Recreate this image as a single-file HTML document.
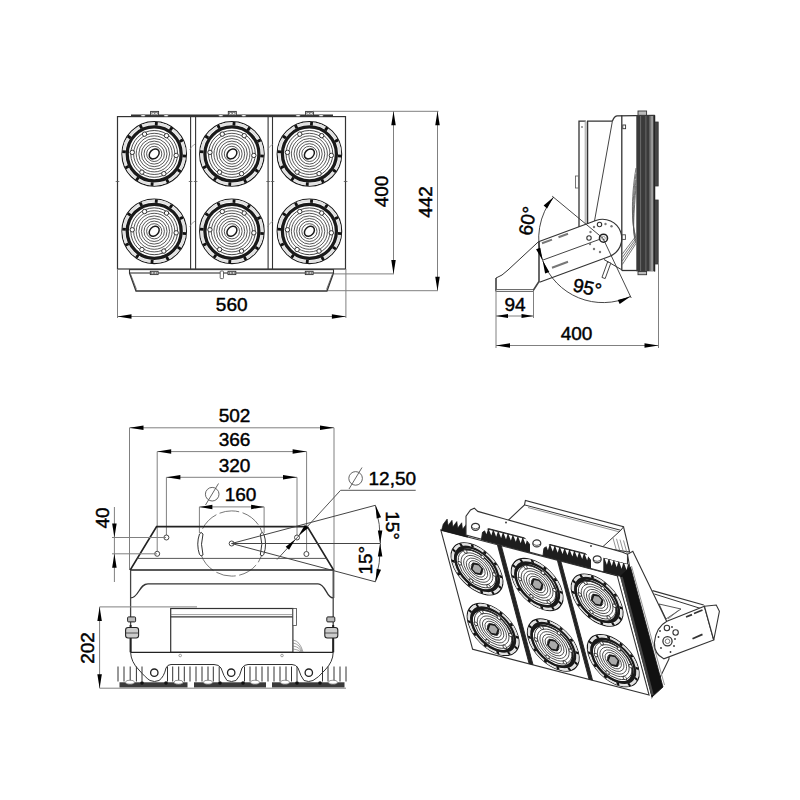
<!DOCTYPE html><html><head><meta charset="utf-8"><style>html,body{margin:0;padding:0;background:#fff;}svg{display:block;}text{font-family:"Liberation Sans",sans-serif;stroke:#000;stroke-width:0.45px;}</style></head><body><svg width="800" height="800" viewBox="0 0 800 800" font-family="Liberation Sans, sans-serif" fill="#000"><defs><g id="lens"><g><circle r="32.3" fill="#fff" stroke="#1a1a1a" stroke-width="1.1"/><circle r="30.4" fill="none" stroke="#e2e2e2" stroke-width="2.4"/><line x1="28.33" y1="1.98" x2="31.92" y2="2.23" stroke="#111" stroke-width="2.8"/><line x1="23.54" y1="15.88" x2="26.53" y2="17.89" stroke="#111" stroke-width="2.8"/><line x1="12.45" y1="25.53" x2="14.03" y2="28.76" stroke="#111" stroke-width="2.8"/><line x1="-1.98" y1="28.33" x2="-2.23" y2="31.92" stroke="#111" stroke-width="2.8"/><line x1="-15.88" y1="23.54" x2="-17.89" y2="26.53" stroke="#111" stroke-width="2.8"/><line x1="-25.53" y1="12.45" x2="-28.76" y2="14.03" stroke="#111" stroke-width="2.8"/><line x1="-28.33" y1="-1.98" x2="-31.92" y2="-2.23" stroke="#111" stroke-width="2.8"/><line x1="-23.54" y1="-15.88" x2="-26.53" y2="-17.89" stroke="#111" stroke-width="2.8"/><line x1="-12.45" y1="-25.53" x2="-14.03" y2="-28.76" stroke="#111" stroke-width="2.8"/><line x1="1.98" y1="-28.33" x2="2.23" y2="-31.92" stroke="#111" stroke-width="2.8"/><line x1="15.88" y1="-23.54" x2="17.89" y2="-26.53" stroke="#111" stroke-width="2.8"/><line x1="25.53" y1="-12.45" x2="28.76" y2="-14.03" stroke="#111" stroke-width="2.8"/><circle r="27.0" fill="none" stroke="#1a1a1a" stroke-width="3.3"/><circle r="23.4" fill="none" stroke="#333" stroke-width="0.9"/><circle r="20.6" fill="none" stroke="#3a3a3a" stroke-width="0.85"/><circle r="18.0" fill="none" stroke="#3a3a3a" stroke-width="0.85"/><circle r="15.4" fill="none" stroke="#3a3a3a" stroke-width="0.85"/><circle r="12.8" fill="none" stroke="#3a3a3a" stroke-width="0.85"/><circle r="10.2" fill="none" stroke="#3a3a3a" stroke-width="0.85"/><circle r="7.6" fill="none" stroke="#3a3a3a" stroke-width="0.85"/><circle cx="21.95" cy="1.53" r="2.2" fill="#fff" stroke="#333" stroke-width="1.0"/><circle cx="9.64" cy="19.77" r="2.2" fill="#fff" stroke="#333" stroke-width="1.0"/><circle cx="-12.30" cy="18.24" r="2.2" fill="#fff" stroke="#333" stroke-width="1.0"/><circle cx="-21.95" cy="-1.53" r="2.2" fill="#fff" stroke="#333" stroke-width="1.0"/><circle cx="-9.64" cy="-19.77" r="2.2" fill="#fff" stroke="#333" stroke-width="1.0"/><circle cx="12.30" cy="-18.24" r="2.2" fill="#fff" stroke="#333" stroke-width="1.0"/><ellipse rx="5.6" ry="4.3" transform="rotate(-45)" fill="#fff" stroke="#1a1a1a" stroke-width="1.5"/></g></g><g id="lensI"><g transform="translate(-0.9,3.2)"><circle r="32.3" fill="#fff" stroke="#1a1a1a" stroke-width="1.32"/><circle r="30.4" fill="none" stroke="#e2e2e2" stroke-width="2.4"/><line x1="28.33" y1="1.98" x2="31.92" y2="2.23" stroke="#111" stroke-width="3.36"/><line x1="23.54" y1="15.88" x2="26.53" y2="17.89" stroke="#111" stroke-width="3.36"/><line x1="12.45" y1="25.53" x2="14.03" y2="28.76" stroke="#111" stroke-width="3.36"/><line x1="-1.98" y1="28.33" x2="-2.23" y2="31.92" stroke="#111" stroke-width="3.36"/><line x1="-15.88" y1="23.54" x2="-17.89" y2="26.53" stroke="#111" stroke-width="3.36"/><line x1="-25.53" y1="12.45" x2="-28.76" y2="14.03" stroke="#111" stroke-width="3.36"/><line x1="-28.33" y1="-1.98" x2="-31.92" y2="-2.23" stroke="#111" stroke-width="3.36"/><line x1="-23.54" y1="-15.88" x2="-26.53" y2="-17.89" stroke="#111" stroke-width="3.36"/><line x1="-12.45" y1="-25.53" x2="-14.03" y2="-28.76" stroke="#111" stroke-width="3.36"/><line x1="1.98" y1="-28.33" x2="2.23" y2="-31.92" stroke="#111" stroke-width="3.36"/><line x1="15.88" y1="-23.54" x2="17.89" y2="-26.53" stroke="#111" stroke-width="3.36"/><line x1="25.53" y1="-12.45" x2="28.76" y2="-14.03" stroke="#111" stroke-width="3.36"/><circle r="27.0" fill="none" stroke="#1a1a1a" stroke-width="3.465"/><circle cx="-1.8" cy="1.8" r="25.6" fill="none" stroke="#1a1a1a" stroke-width="2.4"/><circle r="23.4" fill="none" stroke="#333" stroke-width="1.08"/><circle r="19.8" fill="none" stroke="#3a3a3a" stroke-width="1.02"/><circle r="16.6" fill="none" stroke="#3a3a3a" stroke-width="1.02"/><circle r="13.4" fill="none" stroke="#3a3a3a" stroke-width="1.02"/><circle r="10.2" fill="none" stroke="#3a3a3a" stroke-width="1.02"/><circle r="7.2" fill="none" stroke="#3a3a3a" stroke-width="1.02"/><circle cx="21.95" cy="1.53" r="2.2" fill="#fff" stroke="#333" stroke-width="1.2"/><circle cx="9.64" cy="19.77" r="2.2" fill="#fff" stroke="#333" stroke-width="1.2"/><circle cx="-12.30" cy="18.24" r="2.2" fill="#fff" stroke="#333" stroke-width="1.2"/><circle cx="-21.95" cy="-1.53" r="2.2" fill="#fff" stroke="#333" stroke-width="1.2"/><circle cx="-9.64" cy="-19.77" r="2.2" fill="#fff" stroke="#333" stroke-width="1.2"/><circle cx="12.30" cy="-18.24" r="2.2" fill="#fff" stroke="#333" stroke-width="1.2"/><polygon points="7.5,-2 4,-6.5 -3,-6 -7.5,2 -4,6.5 3,6" fill="#aaa" stroke="#1a1a1a" stroke-width="2.2"/></g></g><g id="panel"><rect x="117.5" y="116.6" width="228" height="152.4" fill="#fff" stroke="#333" stroke-width="1.2"/><line x1="190.6" y1="116.6" x2="190.6" y2="269" stroke="#333" stroke-width="1.1"/><line x1="195.6" y1="116.6" x2="195.6" y2="269" stroke="#333" stroke-width="1.1"/><line x1="268.1" y1="116.6" x2="268.1" y2="269" stroke="#333" stroke-width="1.1"/><line x1="272.5" y1="116.6" x2="272.5" y2="269" stroke="#333" stroke-width="1.1"/><use href="#lens" x="154.2" y="153.9"/><use href="#lens" x="154.2" y="231.3"/><use href="#lens" x="231.9" y="153.9"/><use href="#lens" x="231.9" y="231.3"/><use href="#lens" x="309.4" y="153.9"/><use href="#lens" x="309.4" y="231.3"/></g><g id="panelI"><rect x="117.5" y="116.6" width="228" height="152.4" fill="#fff" stroke="#333" stroke-width="1.56"/><line x1="190.6" y1="116.6" x2="190.6" y2="269" stroke="#333" stroke-width="1.4300000000000002"/><line x1="195.6" y1="116.6" x2="195.6" y2="269" stroke="#333" stroke-width="1.4300000000000002"/><line x1="268.1" y1="116.6" x2="268.1" y2="269" stroke="#333" stroke-width="1.4300000000000002"/><line x1="272.5" y1="116.6" x2="272.5" y2="269" stroke="#333" stroke-width="1.4300000000000002"/><use href="#lensI" x="154.2" y="153.9"/><use href="#lensI" x="154.2" y="231.3"/><use href="#lensI" x="231.9" y="153.9"/><use href="#lensI" x="231.9" y="231.3"/><use href="#lensI" x="309.4" y="153.9"/><use href="#lensI" x="309.4" y="231.3"/></g></defs><use href="#panel"/><line x1="115.70" y1="181.50" x2="119.30" y2="181.50" stroke="#555" stroke-width="0.8"/><line x1="188.80" y1="181.50" x2="192.40" y2="181.50" stroke="#555" stroke-width="0.8"/><line x1="193.80" y1="181.50" x2="197.40" y2="181.50" stroke="#555" stroke-width="0.8"/><line x1="266.30" y1="181.50" x2="269.90" y2="181.50" stroke="#555" stroke-width="0.8"/><line x1="270.70" y1="181.50" x2="274.30" y2="181.50" stroke="#555" stroke-width="0.8"/><line x1="343.80" y1="181.50" x2="347.40" y2="181.50" stroke="#555" stroke-width="0.8"/><path d="M195.10000000000002,144 Q191.3,146 189.5,150" fill="none" stroke="#777" stroke-width="0.6"/><path d="M195.10000000000002,221 Q191.3,223 189.5,227" fill="none" stroke="#777" stroke-width="0.6"/><path d="M273.1,144 Q269.3,146 267.5,150" fill="none" stroke="#777" stroke-width="0.6"/><path d="M273.1,221 Q269.3,223 267.5,227" fill="none" stroke="#777" stroke-width="0.6"/><line x1="131.00" y1="115.20" x2="333.00" y2="115.20" stroke="#333" stroke-width="1.6"/><rect x="150.6" y="111.4" width="8" height="3.9" fill="#ddd" stroke="#333" stroke-width="0.9"/><rect x="152.0" y="112.4" width="2.2" height="2.2" fill="#fff" stroke="#555" stroke-width="0.6"/><rect x="155.0" y="112.4" width="2.2" height="2.2" fill="#fff" stroke="#555" stroke-width="0.6"/><ellipse cx="143.1" cy="115.6" rx="2.2" ry="1" fill="#fff" stroke="#555" stroke-width="0.6"/><ellipse cx="166.1" cy="115.6" rx="2.2" ry="1" fill="#fff" stroke="#555" stroke-width="0.6"/><rect x="228.3" y="111.4" width="8" height="3.9" fill="#ddd" stroke="#333" stroke-width="0.9"/><rect x="229.70000000000002" y="112.4" width="2.2" height="2.2" fill="#fff" stroke="#555" stroke-width="0.6"/><rect x="232.70000000000002" y="112.4" width="2.2" height="2.2" fill="#fff" stroke="#555" stroke-width="0.6"/><ellipse cx="220.8" cy="115.6" rx="2.2" ry="1" fill="#fff" stroke="#555" stroke-width="0.6"/><ellipse cx="243.8" cy="115.6" rx="2.2" ry="1" fill="#fff" stroke="#555" stroke-width="0.6"/><rect x="305.6" y="111.4" width="8" height="3.9" fill="#ddd" stroke="#333" stroke-width="0.9"/><rect x="307.0" y="112.4" width="2.2" height="2.2" fill="#fff" stroke="#555" stroke-width="0.6"/><rect x="310.0" y="112.4" width="2.2" height="2.2" fill="#fff" stroke="#555" stroke-width="0.6"/><ellipse cx="298.1" cy="115.6" rx="2.2" ry="1" fill="#fff" stroke="#555" stroke-width="0.6"/><ellipse cx="321.1" cy="115.6" rx="2.2" ry="1" fill="#fff" stroke="#555" stroke-width="0.6"/><rect x="129.5" y="269.6" width="204" height="3.4" fill="#fff" stroke="#333" stroke-width="1.1"/><polyline points="129.50,273.00 136.00,291.00 327.00,291.00 333.50,273.00" fill="none" stroke="#333" stroke-width="1.3"/><line x1="130.50" y1="274.00" x2="136.50" y2="289.50" stroke="#555" stroke-width="0.8"/><line x1="332.50" y1="274.00" x2="326.50" y2="289.50" stroke="#555" stroke-width="0.8"/><rect x="150.29999999999998" y="271.3" width="7.8" height="3.3" fill="#ddd" stroke="#333" stroke-width="0.9"/><rect x="151.7" y="272" width="2.1" height="1.9" fill="#fff" stroke="#555" stroke-width="0.6"/><rect x="154.7" y="272" width="2.1" height="1.9" fill="#fff" stroke="#555" stroke-width="0.6"/><rect x="228.0" y="271.3" width="7.8" height="3.3" fill="#ddd" stroke="#333" stroke-width="0.9"/><rect x="229.4" y="272" width="2.1" height="1.9" fill="#fff" stroke="#555" stroke-width="0.6"/><rect x="232.4" y="272" width="2.1" height="1.9" fill="#fff" stroke="#555" stroke-width="0.6"/><rect x="305.3" y="271.3" width="7.8" height="3.3" fill="#ddd" stroke="#333" stroke-width="0.9"/><rect x="306.70000000000005" y="272" width="2.1" height="1.9" fill="#fff" stroke="#555" stroke-width="0.6"/><rect x="309.70000000000005" y="272" width="2.1" height="1.9" fill="#fff" stroke="#555" stroke-width="0.6"/><rect x="220.2" y="271" width="3.3" height="7.6" rx="0.8" fill="#fff" stroke="#444" stroke-width="0.8"/><line x1="313.00" y1="111.30" x2="438.50" y2="111.30" stroke="#808080" stroke-width="1"/><line x1="393.50" y1="111.20" x2="393.50" y2="273.90" stroke="#808080" stroke-width="1"/><polygon points="393.50,111.20 395.75,125.20 391.25,125.20" fill="#000"/><polygon points="393.50,273.90 391.25,259.90 395.75,259.90" fill="#000"/><line x1="437.50" y1="111.20" x2="437.50" y2="290.70" stroke="#808080" stroke-width="1"/><polygon points="437.50,111.20 439.75,125.20 435.25,125.20" fill="#000"/><polygon points="437.50,290.70 435.25,276.70 439.75,276.70" fill="#000"/><line x1="334.00" y1="273.90" x2="394.00" y2="273.90" stroke="#808080" stroke-width="1"/><line x1="328.00" y1="290.70" x2="438.00" y2="290.70" stroke="#808080" stroke-width="1"/><text x="388" y="191.5" font-size="19" text-anchor="middle" letter-spacing="0" transform="rotate(-90 388 191.5)">400</text><text x="432" y="202" font-size="19" text-anchor="middle" letter-spacing="0" transform="rotate(-90 432 202)">442</text><line x1="117.50" y1="269.00" x2="117.50" y2="318.00" stroke="#808080" stroke-width="1"/><line x1="345.90" y1="269.00" x2="345.90" y2="318.00" stroke="#808080" stroke-width="1"/><line x1="117.50" y1="316.50" x2="345.90" y2="316.50" stroke="#808080" stroke-width="1"/><polygon points="117.50,316.50 131.50,314.25 131.50,318.75" fill="#000"/><polygon points="345.90,316.50 331.90,318.75 331.90,314.25" fill="#000"/><text x="231.7" y="310.5" font-size="19" text-anchor="middle" letter-spacing="0">560</text><polyline points="579.00,227.00 579.00,121.10 585.80,121.10" fill="none" stroke="#333" stroke-width="1.3"/><polyline points="587.60,224.00 587.60,121.10 612.40,121.10" fill="none" stroke="#333" stroke-width="1.3"/><rect x="584.6" y="121.5" width="2.3" height="102" fill="#bbb"/><circle cx="582" cy="127" r="0.8" fill="#333"/><path d="M612.4,121.1 Q614,116.3 617,115.8 L654.7,115.3" fill="none" stroke="#333" stroke-width="1.3"/><line x1="612.40" y1="121.10" x2="594.50" y2="221.00" stroke="#444" stroke-width="1"/><line x1="621.80" y1="115.30" x2="621.80" y2="270.50" stroke="#333" stroke-width="1.3"/><rect x="622.8" y="125" width="2.8" height="3.7" fill="#fff" stroke="#333" stroke-width="0.9"/><rect x="575.5" y="176" width="3" height="12" fill="#fff" stroke="#555" stroke-width="0.8"/><line x1="621.80" y1="270.50" x2="637.00" y2="270.50" stroke="#333" stroke-width="1.3"/><rect x="636.3" y="115.3" width="18.6" height="156" fill="#3a3a3a"/><line x1="640.60" y1="116.00" x2="640.60" y2="271.00" stroke="#777" stroke-width="0.8"/><line x1="645.90" y1="116.00" x2="645.90" y2="271.00" stroke="#777" stroke-width="0.8"/><rect x="649.6" y="116" width="3.6" height="155" fill="#9a9a9a"/><line x1="650.60" y1="116.00" x2="650.60" y2="271.00" stroke="#555" stroke-width="0.6"/><line x1="654.60" y1="115.30" x2="654.60" y2="271.50" stroke="#222" stroke-width="1.3"/><rect x="655.2" y="122" width="3" height="64" fill="#444" stroke="#333" stroke-width="0.8"/><rect x="655.2" y="200" width="3" height="64" fill="#444" stroke="#333" stroke-width="0.8"/><rect x="638" y="111" width="8.6" height="4.3" fill="#bbb" stroke="#333" stroke-width="0.9"/><rect x="638" y="271.5" width="8.6" height="3.2" fill="#bbb" stroke="#333" stroke-width="0.9"/><path d="M636,168 C630.5,200 632,228 636,236.0 L622.3,254.0" fill="none" stroke="#555" stroke-width="0.8"/><path d="M636,174 C631.7,204 632,230 636,238.5 L622.3,257.5" fill="none" stroke="#555" stroke-width="0.8"/><path d="M636,180 C632.9,208 632,232 636,241.0 L622.3,261.0" fill="none" stroke="#555" stroke-width="0.8"/><path d="M636,186 C634.1,212 632,234 636,243.5 L622.3,264.5" fill="none" stroke="#555" stroke-width="0.8"/><line x1="604.00" y1="259.50" x2="621.80" y2="269.80" stroke="#333" stroke-width="1"/><polyline points="496.00,290.80 496.00,278.00" fill="none" stroke="#555" stroke-width="1.8"/><path d="M496,278 Q502,276 508,270 L538.5,241.7" fill="none" stroke="#333" stroke-width="1"/><rect x="496" y="289.6" width="37.5" height="1.8" fill="#fff" stroke="#555" stroke-width="0.9"/><polyline points="533.50,290.00 539.00,281.50 539.00,241.50" fill="none" stroke="#444" stroke-width="1.6"/><path d="M538.5,241.7 L595.9,220.5 A19.2,19.2 0 1 1 609.3,256.5 L539.5,282.3" fill="#fff" fill-opacity="0" stroke="#333" stroke-width="1.2"/><line x1="543.00" y1="260.00" x2="600.00" y2="239.20" stroke="#444" stroke-width="1"/><line x1="542.00" y1="243.30" x2="552.00" y2="239.60" stroke="#777" stroke-width="2"/><line x1="558.50" y1="237.20" x2="568.00" y2="233.70" stroke="#777" stroke-width="2"/><line x1="552.00" y1="267.70" x2="568.00" y2="261.80" stroke="#777" stroke-width="2"/><circle cx="603.5" cy="238.2" r="4" fill="#fff" stroke="#222" stroke-width="1.6"/><circle cx="603.5" cy="238.2" r="1.8" fill="none" stroke="#777" stroke-width="0.7"/><circle cx="599.5" cy="224.5" r="2.2" fill="#fff" stroke="#333" stroke-width="1.1"/><circle cx="589" cy="238" r="2.2" fill="#fff" stroke="#333" stroke-width="1.1"/><circle cx="605.5" cy="224" r="1.2" fill="#777"/><circle cx="611.5" cy="226.2" r="1.2" fill="#777"/><circle cx="594" cy="227" r="1.2" fill="#777"/><circle cx="590.5" cy="232" r="1.2" fill="#777"/><circle cx="590" cy="244" r="1.2" fill="#777"/><circle cx="594" cy="249" r="1.2" fill="#777"/><circle cx="600" cy="252" r="1.2" fill="#777"/><rect x="622.2" y="234.8" width="3.2" height="4.6" fill="#fff" stroke="#444" stroke-width="0.9"/><rect x="604.7" y="262" width="3.4" height="16.5" fill="#fff" stroke="#444" stroke-width="0.9" transform="rotate(20 606.4 270.2)"/><line x1="603.00" y1="238.30" x2="552.19" y2="196.17" stroke="#333" stroke-width="0.9"/><line x1="603.00" y1="238.30" x2="631.21" y2="297.97" stroke="#333" stroke-width="0.9"/><path d="M553.67,197.05 A64.3,64.3 0 0 0 542.69,260.61 A64.3,64.3 0 0 0 630.48,296.43" fill="none" stroke="#333" stroke-width="0.9"/><polygon points="553.67,197.05 547.06,208.47 543.61,205.58" fill="#000"/><polygon points="542.69,260.61 549.31,272.02 545.09,273.58" fill="#000"/><polygon points="542.69,260.61 536.07,249.20 540.29,247.63" fill="#000"/><polygon points="630.48,296.43 619.69,304.02 617.76,299.95" fill="#000"/><text x="534" y="222" font-size="19" text-anchor="middle" letter-spacing="0" transform="rotate(-80 534 222)">60°</text><text x="586" y="294" font-size="19" text-anchor="middle" letter-spacing="0" transform="rotate(12 586 294)">95°</text><line x1="496.00" y1="291.00" x2="496.00" y2="348.00" stroke="#808080" stroke-width="1"/><line x1="533.50" y1="291.00" x2="533.50" y2="318.00" stroke="#808080" stroke-width="1"/><line x1="496.00" y1="316.00" x2="533.50" y2="316.00" stroke="#808080" stroke-width="1"/><polygon points="496.00,316.00 508.00,314.00 508.00,318.00" fill="#000"/><polygon points="533.50,316.00 521.50,318.00 521.50,314.00" fill="#000"/><text x="515" y="310.5" font-size="19" text-anchor="middle" letter-spacing="0">94</text><line x1="658.50" y1="262.00" x2="658.50" y2="348.00" stroke="#808080" stroke-width="1"/><line x1="496.00" y1="345.50" x2="658.50" y2="345.50" stroke="#808080" stroke-width="1"/><polygon points="496.00,345.50 510.00,343.25 510.00,347.75" fill="#000"/><polygon points="658.50,345.50 644.50,347.75 644.50,343.25" fill="#000"/><text x="576.5" y="340" font-size="19" text-anchor="middle" letter-spacing="0">400</text><line x1="129.50" y1="427.80" x2="129.50" y2="570.00" stroke="#808080" stroke-width="1"/><line x1="334.00" y1="427.80" x2="334.00" y2="598.00" stroke="#808080" stroke-width="1"/><line x1="129.50" y1="427.80" x2="334.00" y2="427.80" stroke="#808080" stroke-width="1"/><polygon points="129.50,427.80 143.50,425.55 143.50,430.05" fill="#000"/><polygon points="334.00,427.80 320.00,430.05 320.00,425.55" fill="#000"/><text x="234.5" y="422" font-size="19" text-anchor="middle" letter-spacing="0">502</text><line x1="157.20" y1="451.60" x2="157.20" y2="551.00" stroke="#808080" stroke-width="1"/><line x1="306.60" y1="451.60" x2="306.60" y2="551.50" stroke="#808080" stroke-width="1"/><line x1="157.20" y1="451.60" x2="306.60" y2="451.60" stroke="#808080" stroke-width="1"/><polygon points="157.20,451.60 171.20,449.35 171.20,453.85" fill="#000"/><polygon points="306.60,451.60 292.60,453.85 292.60,449.35" fill="#000"/><text x="234.5" y="446" font-size="19" text-anchor="middle" letter-spacing="0">366</text><line x1="166.40" y1="477.30" x2="166.40" y2="535.00" stroke="#808080" stroke-width="1"/><line x1="297.00" y1="477.30" x2="297.00" y2="535.00" stroke="#808080" stroke-width="1"/><line x1="166.40" y1="477.30" x2="297.00" y2="477.30" stroke="#808080" stroke-width="1"/><polygon points="166.40,477.30 180.40,475.05 180.40,479.55" fill="#000"/><polygon points="297.00,477.30 283.00,479.55 283.00,475.05" fill="#000"/><text x="234.5" y="472" font-size="19" text-anchor="middle" letter-spacing="0">320</text><line x1="199.40" y1="506.90" x2="199.40" y2="533.00" stroke="#808080" stroke-width="1"/><line x1="264.10" y1="506.90" x2="264.10" y2="533.00" stroke="#808080" stroke-width="1"/><line x1="199.40" y1="506.90" x2="264.10" y2="506.90" stroke="#808080" stroke-width="1"/><polygon points="199.40,506.90 212.40,504.65 212.40,509.15" fill="#000"/><polygon points="264.10,506.90 251.10,509.15 251.10,504.65" fill="#000"/><text x="240.5" y="501.3" font-size="19" text-anchor="middle" letter-spacing="0">160</text><circle cx="212.2" cy="494.2" r="6.8" fill="none" stroke="#555" stroke-width="0.9"/><line x1="205.50" y1="505.00" x2="218.50" y2="483.50" stroke="#555" stroke-width="0.9"/><circle cx="231.65" cy="543.5" r="32.6" fill="none" stroke="#555" stroke-width="0.8" stroke-dasharray="20,3.5"/><polyline points="130.30,569.90 156.60,526.60 307.30,526.60 333.50,569.90" fill="none" stroke="#222" stroke-width="1.7"/><line x1="130.30" y1="569.90" x2="333.50" y2="569.90" stroke="#222" stroke-width="1.5"/><line x1="137.00" y1="558.40" x2="327.00" y2="558.40" stroke="#444" stroke-width="0.9"/><circle cx="166.4" cy="537.5" r="2.5" fill="#fff" stroke="#333" stroke-width="0.9"/><circle cx="157.2" cy="553.8" r="2.5" fill="#fff" stroke="#333" stroke-width="0.9"/><circle cx="297" cy="537.5" r="2.5" fill="#fff" stroke="#333" stroke-width="0.9"/><circle cx="306.4" cy="554.0" r="2.5" fill="#fff" stroke="#333" stroke-width="0.9"/><circle cx="231.65" cy="543.5" r="2.5" fill="#fff" stroke="#333" stroke-width="0.9"/><path d="M199.5,534 Q196,544 199.5,554.5 Q201,557 203,555 Q200,544 203,534 Q201,531 199.5,534Z" fill="#fff" stroke="#333" stroke-width="1"/><path d="M263.8,534 Q267.3,544 263.8,554.5 Q262.3,557 260.3,555 Q263.3,544 260.3,534 Q262.3,531 263.8,534Z" fill="#fff" stroke="#333" stroke-width="1"/><line x1="112.00" y1="537.50" x2="166.00" y2="537.50" stroke="#808080" stroke-width="1"/><line x1="112.00" y1="553.80" x2="157.00" y2="553.80" stroke="#808080" stroke-width="1"/><line x1="114.40" y1="507.00" x2="114.40" y2="582.00" stroke="#808080" stroke-width="1"/><polygon points="114.40,537.50 112.15,523.50 116.65,523.50" fill="#000"/><polygon points="114.40,553.80 116.65,567.80 112.15,567.80" fill="#000"/><text x="108.5" y="518" font-size="19" text-anchor="middle" letter-spacing="0" transform="rotate(-90 108.5 518)">40</text><line x1="231.65" y1="543.50" x2="380.00" y2="543.50" stroke="#444" stroke-width="1"/><line x1="231.65" y1="543.50" x2="375.40" y2="505.30" stroke="#444" stroke-width="1"/><line x1="231.65" y1="543.50" x2="375.40" y2="581.80" stroke="#444" stroke-width="1"/><path d="M375.4,505.3 A148.5,148.5 0 0 1 375.4,581.8" fill="none" stroke="#444" stroke-width="0.9"/><polygon points="375.60,505.30 381.05,517.32 376.69,518.45" fill="#000"/><polygon points="380.10,543.50 377.85,530.50 382.35,530.50" fill="#000"/><polygon points="380.10,543.50 382.35,556.50 377.85,556.50" fill="#000"/><polygon points="375.60,581.80 376.69,568.65 381.05,569.78" fill="#000"/><text x="385.5" y="525.5" font-size="19" text-anchor="middle" letter-spacing="0" transform="rotate(90 385.5 525.5)">15°</text><text x="372.5" y="560.2" font-size="19" text-anchor="middle" letter-spacing="0" transform="rotate(-90 372.5 560.2)">15°</text><polyline points="277.10,559.50 340.60,490.30 415.70,490.30" fill="none" stroke="#555" stroke-width="1"/><polygon points="298.60,535.50 304.92,525.05 308.28,528.05" fill="#000"/><polygon points="295.30,539.30 289.06,549.79 285.68,546.82" fill="#000"/><text x="368.5" y="484.5" font-size="19" text-anchor="start" letter-spacing="0">12,50</text><circle cx="355.6" cy="478.4" r="6.8" fill="none" stroke="#555" stroke-width="0.9"/><line x1="349.00" y1="489.00" x2="362.00" y2="467.50" stroke="#555" stroke-width="0.9"/><path d="M130.6,597.9 C139,597.9 139,583.8 148,583.8 L318,583.8 C326,583.8 326,597.9 333.2,597.9" fill="none" stroke="#333" stroke-width="1.3"/><line x1="130.60" y1="570.00" x2="130.60" y2="652.30" stroke="#444" stroke-width="1.3"/><line x1="333.20" y1="570.00" x2="333.20" y2="652.30" stroke="#444" stroke-width="1.3"/><line x1="130.60" y1="625.00" x2="130.60" y2="652.30" stroke="#222" stroke-width="2"/><line x1="333.20" y1="625.00" x2="333.20" y2="652.30" stroke="#222" stroke-width="2"/><rect x="127.6" y="616.9" width="8" height="5" rx="1" fill="#bbb" stroke="#222" stroke-width="1"/><rect x="125.6" y="627.5" width="13" height="10.5" rx="2.5" fill="#ccc" stroke="#222" stroke-width="1.1"/><line x1="125.60" y1="633.00" x2="138.60" y2="633.00" stroke="#333" stroke-width="0.8"/><rect x="326.8" y="616.9" width="8" height="5" rx="1" fill="#bbb" stroke="#222" stroke-width="1"/><rect x="324.8" y="627.5" width="13" height="10.5" rx="2.5" fill="#ccc" stroke="#222" stroke-width="1.1"/><line x1="324.80" y1="633.00" x2="337.80" y2="633.00" stroke="#333" stroke-width="0.8"/><rect x="170.7" y="608.5" width="122.2" height="43.8" fill="#fff" stroke="#333" stroke-width="1.2"/><line x1="170.70" y1="616.80" x2="296.50" y2="616.80" stroke="#333" stroke-width="1.3"/><line x1="170.70" y1="614.60" x2="292.90" y2="614.60" stroke="#777" stroke-width="0.7"/><rect x="292.9" y="608.5" width="3.6" height="17" fill="#fff" stroke="#444" stroke-width="0.8"/><line x1="99.60" y1="606.90" x2="197.00" y2="606.90" stroke="#808080" stroke-width="1"/><line x1="130.60" y1="652.30" x2="333.20" y2="652.30" stroke="#222" stroke-width="1.3"/><path d="M293,640 Q300,641 303,652" fill="none" stroke="#666" stroke-width="0.6"/><path d="M293,643 Q300,644 302,652" fill="none" stroke="#666" stroke-width="0.6"/><path d="M293,646 Q300,647 301,652" fill="none" stroke="#666" stroke-width="0.6"/><path d="M293,649 Q300,650 300,652" fill="none" stroke="#666" stroke-width="0.6"/><circle cx="180.2" cy="655.5" r="1.3" fill="none" stroke="#777" stroke-width="0.7"/><circle cx="282" cy="655.5" r="1.3" fill="none" stroke="#777" stroke-width="0.7"/><path d="M130.6,652.3 Q131,662 139,670 Q146,678 150,680.5 Q154.5,682.5 159,680.5 Q164,677 166,668 Q167.5,664.5 171,664.5 L214,664.5 Q219,664.5 221,668 Q224,677 227,680.5 Q231.5,682.5 236,680.5 Q240,677 242,668 Q244,664.5 248,664.5 L292,664.5 Q296,664.5 298,668 Q301,677 304,680.5 Q308.8,682.5 313,680.5 Q318,678 325,670 Q333,662 333.2,652.3" fill="none" stroke="#333" stroke-width="1"/><circle cx="154.3" cy="672.7" r="3.7" fill="#fff" stroke="#222" stroke-width="1.3"/><circle cx="231.2" cy="672.7" r="3.7" fill="#fff" stroke="#222" stroke-width="1.3"/><circle cx="308.8" cy="672.7" r="3.7" fill="#fff" stroke="#222" stroke-width="1.3"/><line x1="118.00" y1="666.50" x2="118.00" y2="681.50" stroke="#333" stroke-width="1"/><line x1="124.00" y1="666.50" x2="124.00" y2="681.50" stroke="#333" stroke-width="1"/><line x1="130.20" y1="666.50" x2="130.20" y2="681.50" stroke="#333" stroke-width="1"/><line x1="136.40" y1="666.50" x2="136.40" y2="681.50" stroke="#333" stroke-width="1"/><line x1="142.00" y1="666.50" x2="142.00" y2="681.50" stroke="#333" stroke-width="1"/><line x1="167.50" y1="666.50" x2="167.50" y2="681.50" stroke="#333" stroke-width="1"/><line x1="172.70" y1="666.50" x2="172.70" y2="681.50" stroke="#333" stroke-width="1"/><line x1="178.70" y1="666.50" x2="178.70" y2="681.50" stroke="#333" stroke-width="1"/><line x1="184.30" y1="666.50" x2="184.30" y2="681.50" stroke="#333" stroke-width="1"/><line x1="190.00" y1="666.50" x2="190.00" y2="681.50" stroke="#333" stroke-width="1"/><line x1="196.00" y1="666.50" x2="196.00" y2="681.50" stroke="#333" stroke-width="1"/><line x1="202.00" y1="666.50" x2="202.00" y2="681.50" stroke="#333" stroke-width="1"/><line x1="208.00" y1="666.50" x2="208.00" y2="681.50" stroke="#333" stroke-width="1"/><line x1="213.30" y1="666.50" x2="213.30" y2="681.50" stroke="#333" stroke-width="1"/><line x1="219.20" y1="666.50" x2="219.20" y2="681.50" stroke="#333" stroke-width="1"/><line x1="244.50" y1="666.50" x2="244.50" y2="681.50" stroke="#333" stroke-width="1"/><line x1="250.00" y1="666.50" x2="250.00" y2="681.50" stroke="#333" stroke-width="1"/><line x1="256.00" y1="666.50" x2="256.00" y2="681.50" stroke="#333" stroke-width="1"/><line x1="262.00" y1="666.50" x2="262.00" y2="681.50" stroke="#333" stroke-width="1"/><line x1="268.00" y1="666.50" x2="268.00" y2="681.50" stroke="#333" stroke-width="1"/><line x1="274.00" y1="666.50" x2="274.00" y2="681.50" stroke="#333" stroke-width="1"/><line x1="280.00" y1="666.50" x2="280.00" y2="681.50" stroke="#333" stroke-width="1"/><line x1="286.00" y1="666.50" x2="286.00" y2="681.50" stroke="#333" stroke-width="1"/><line x1="291.50" y1="666.50" x2="291.50" y2="681.50" stroke="#333" stroke-width="1"/><line x1="297.00" y1="666.50" x2="297.00" y2="681.50" stroke="#333" stroke-width="1"/><line x1="322.50" y1="666.50" x2="322.50" y2="681.50" stroke="#333" stroke-width="1"/><line x1="328.00" y1="666.50" x2="328.00" y2="681.50" stroke="#333" stroke-width="1"/><line x1="334.00" y1="666.50" x2="334.00" y2="681.50" stroke="#333" stroke-width="1"/><line x1="340.00" y1="666.50" x2="340.00" y2="681.50" stroke="#333" stroke-width="1"/><line x1="346.00" y1="666.50" x2="346.00" y2="681.50" stroke="#333" stroke-width="1"/><rect x="119.5" y="682.3" width="68.0" height="5.2" fill="#3a3a3a"/><rect x="194" y="682.3" width="72" height="5.2" fill="#3a3a3a"/><rect x="272" y="682.3" width="72.5" height="5.2" fill="#3a3a3a"/><ellipse cx="130" cy="682.2" rx="4.5" ry="2" fill="#fff" stroke="#555" stroke-width="0.6"/><ellipse cx="178.5" cy="682.2" rx="4.5" ry="2" fill="#fff" stroke="#555" stroke-width="0.6"/><ellipse cx="208" cy="682.2" rx="4.5" ry="2" fill="#fff" stroke="#555" stroke-width="0.6"/><ellipse cx="255" cy="682.2" rx="4.5" ry="2" fill="#fff" stroke="#555" stroke-width="0.6"/><ellipse cx="285" cy="682.2" rx="4.5" ry="2" fill="#fff" stroke="#555" stroke-width="0.6"/><ellipse cx="333" cy="682.2" rx="4.5" ry="2" fill="#fff" stroke="#555" stroke-width="0.6"/><circle cx="142" cy="683" r="1.8" fill="#111"/><circle cx="166" cy="683" r="1.8" fill="#111"/><circle cx="220" cy="683" r="1.8" fill="#111"/><circle cx="243" cy="683" r="1.8" fill="#111"/><circle cx="297" cy="683" r="1.8" fill="#111"/><circle cx="320" cy="683" r="1.8" fill="#111"/><line x1="99.60" y1="688.20" x2="346.00" y2="688.20" stroke="#808080" stroke-width="1"/><line x1="99.60" y1="606.90" x2="99.60" y2="688.20" stroke="#808080" stroke-width="1"/><polygon points="99.60,606.90 101.85,620.90 97.35,620.90" fill="#000"/><polygon points="99.60,688.20 97.35,674.20 101.85,674.20" fill="#000"/><text x="94.4" y="648" font-size="19" text-anchor="middle" letter-spacing="0" transform="rotate(-90 94.4 648)">202</text><polygon points="524.50,504.90 525.40,500.50 623.50,526.80 629.60,552.00 601.60,547.80 506.00,522.40" fill="#fff" stroke="#333" stroke-width="1.1"/><line x1="524.50" y1="504.90" x2="620.80" y2="530.30" stroke="#333" stroke-width="1"/><line x1="528.00" y1="507.50" x2="619.00" y2="531.80" stroke="#666" stroke-width="0.7"/><line x1="620.80" y1="530.30" x2="601.60" y2="547.80" stroke="#333" stroke-width="1"/><line x1="620.80" y1="530.30" x2="623.50" y2="526.80" stroke="#333" stroke-width="1"/><line x1="613.00" y1="538.00" x2="618.00" y2="556.00" stroke="#777" stroke-width="0.8"/><line x1="616.50" y1="538.80" x2="621.50" y2="556.80" stroke="#777" stroke-width="0.8"/><line x1="620.00" y1="539.60" x2="625.00" y2="557.60" stroke="#777" stroke-width="0.8"/><line x1="623.50" y1="540.40" x2="628.50" y2="558.40" stroke="#777" stroke-width="0.8"/><g transform="matrix(0.774,0.2013,0.2085,0.7824,325.569,415.089)"><use href="#panelI"/><rect x="190.6" y="116" width="5" height="153" fill="#222"/><rect x="268.1" y="116" width="4.4" height="153" fill="#222"/></g><polygon points="441.50,530.50 443.19,524.22 447.17,519.05 448.03,525.47 452.01,520.30 452.87,526.72 456.85,521.54 457.72,527.96 461.70,522.79 462.56,529.21 466.54,524.04 467.40,530.46 469.19,530.92 467.50,537.20" fill="#1a1a1a" stroke="#111" stroke-width="0.6"/><polygon points="466.00,535.10 466.00,516.30 470.50,510.00 474.30,508.20 477.80,511.40 622.60,552.19 627.50,554.26 627.50,564.46 604.00,558.40 604.00,572.09" fill="#fff" stroke="#333" stroke-width="1.1"/><polygon points="488.50,528.64 524.50,537.91 529.50,544.20 529.50,552.16 481.50,539.64 482.50,532.35" fill="#1e1e1e" stroke="#222" stroke-width="1.0"/><polygon points="484.10,528.49 487.90,529.39 486.40,534.29" fill="#fff"/><polygon points="489.00,529.75 492.80,530.65 491.30,535.55" fill="#fff"/><polygon points="493.90,531.02 497.70,531.92 496.20,536.82" fill="#fff"/><polygon points="498.80,532.28 502.60,533.18 501.10,538.08" fill="#fff"/><polygon points="503.70,533.54 507.50,534.44 506.00,539.34" fill="#fff"/><polygon points="508.60,534.81 512.40,535.71 510.90,540.61" fill="#fff"/><polygon points="513.50,536.07 517.30,536.97 515.80,541.87" fill="#fff"/><polygon points="518.40,537.33 522.20,538.23 520.70,543.13" fill="#fff"/><polygon points="523.30,538.59 527.10,539.49 525.60,544.39" fill="#fff"/><polygon points="550.00,544.49 585.50,553.63 590.50,559.92 590.50,568.07 543.00,555.68 544.00,548.20" fill="#1e1e1e" stroke="#222" stroke-width="1.0"/><polygon points="545.60,544.34 549.40,545.24 547.90,550.14" fill="#fff"/><polygon points="550.50,545.60 554.30,546.50 552.80,551.40" fill="#fff"/><polygon points="555.40,546.87 559.20,547.77 557.70,552.67" fill="#fff"/><polygon points="560.30,548.13 564.10,549.03 562.60,553.93" fill="#fff"/><polygon points="565.20,549.39 569.00,550.29 567.50,555.19" fill="#fff"/><polygon points="570.10,550.65 573.90,551.55 572.40,556.45" fill="#fff"/><polygon points="575.00,551.92 578.80,552.82 577.30,557.72" fill="#fff"/><polygon points="579.90,553.18 583.70,554.08 582.20,558.98" fill="#fff"/><polygon points="584.80,554.44 588.60,555.34 587.10,560.24" fill="#fff"/><polygon points="604.00,558.40 630.00,565.10 630.00,578.87 604.00,572.09" fill="#1e1e1e" stroke="#222" stroke-width="0.8"/><polygon points="604.60,558.55 608.40,559.55 606.90,564.85" fill="#fff"/><polygon points="609.50,559.81 613.30,560.81 611.80,566.11" fill="#fff"/><polygon points="614.40,561.07 618.20,562.07 616.70,567.37" fill="#fff"/><polygon points="619.30,562.33 623.10,563.33 621.60,568.63" fill="#fff"/><polygon points="624.20,563.60 628.00,564.60 626.50,569.90" fill="#fff"/><ellipse cx="475.5" cy="526.8" rx="4" ry="3.5" fill="#fff" stroke="#333" stroke-width="1.2"/><path d="M471.7,527.1999999999999 Q475.5,530.4 479.3,527.1999999999999" fill="none" stroke="#333" stroke-width="0.8"/><ellipse cx="536.8" cy="543.4" rx="4" ry="3.5" fill="#fff" stroke="#333" stroke-width="1.2"/><path d="M533.0,543.8 Q536.8,547.0 540.5999999999999,543.8" fill="none" stroke="#333" stroke-width="0.8"/><ellipse cx="597.2" cy="559.3" rx="4" ry="3.5" fill="#fff" stroke="#333" stroke-width="1.2"/><path d="M593.4000000000001,559.6999999999999 Q597.2,562.9 601.0,559.6999999999999" fill="none" stroke="#333" stroke-width="0.8"/><circle cx="506" cy="522.4" r="1" fill="#444"/><circle cx="591" cy="546" r="1" fill="#444"/><polyline points="652.50,590.60 703.75,605.00" fill="none" stroke="#333" stroke-width="1.1"/><polyline points="654.40,594.00 704.00,609.50" fill="none" stroke="#333" stroke-width="1.0"/><polygon points="659.00,604.00 681.00,609.00 666.00,619.00" fill="none" stroke="#444" stroke-width="0.9"/><line x1="679.00" y1="610.00" x2="668.00" y2="619.00" stroke="#666" stroke-width="0.8"/><polygon points="627.50,554.40 632.80,551.25 666.50,621.00 669.00,659.00 660.60,676.25 652.00,697.00" fill="#fff" stroke="#333" stroke-width="1.1"/><polygon points="620.50,576.00 630.50,567.00 663.00,687.00 652.00,697.00" fill="#111" stroke="#111" stroke-width="0.8"/><line x1="621.50" y1="577.00" x2="652.50" y2="695.00" stroke="#444" stroke-width="2.5"/><line x1="631.50" y1="566.00" x2="664.50" y2="685.00" stroke="#999" stroke-width="1"/><path d="M666.9,621.25 L704.4,606.25 L713.75,640 L663.75,658.75 Q654,654 654.4,642.5 Q656,627 666.9,621.25Z" fill="#fff" stroke="#333" stroke-width="1.2"/><polygon points="704.40,606.25 716.25,605.00 719.40,611.25 713.75,640.00" fill="#fff" stroke="#333" stroke-width="1.1"/><circle cx="667.5" cy="641.25" r="4.6" fill="#fff" stroke="#333" stroke-width="1.3"/><circle cx="667.5" cy="641.25" r="2.3" fill="none" stroke="#555" stroke-width="0.8"/><circle cx="666.9" cy="628" r="2.7" fill="#fff" stroke="#333" stroke-width="1.1"/><circle cx="675.6" cy="632.5" r="2.7" fill="#fff" stroke="#333" stroke-width="1.1"/><circle cx="660" cy="631" r="0.9" fill="#333"/><circle cx="658.5" cy="637" r="0.9" fill="#333"/><circle cx="661" cy="648" r="0.9" fill="#333"/><circle cx="670.5" cy="652" r="0.9" fill="#333"/><circle cx="674" cy="646" r="0.9" fill="#333"/><circle cx="675" cy="639" r="0.9" fill="#333"/><circle cx="672" cy="627" r="0.9" fill="#333"/><line x1="686.00" y1="617.00" x2="692.00" y2="614.60" stroke="#333" stroke-width="1.8"/><line x1="694.00" y1="613.50" x2="702.50" y2="610.00" stroke="#333" stroke-width="1.8"/><line x1="692.50" y1="638.75" x2="702.50" y2="634.40" stroke="#333" stroke-width="1.8"/></svg></body></html>
